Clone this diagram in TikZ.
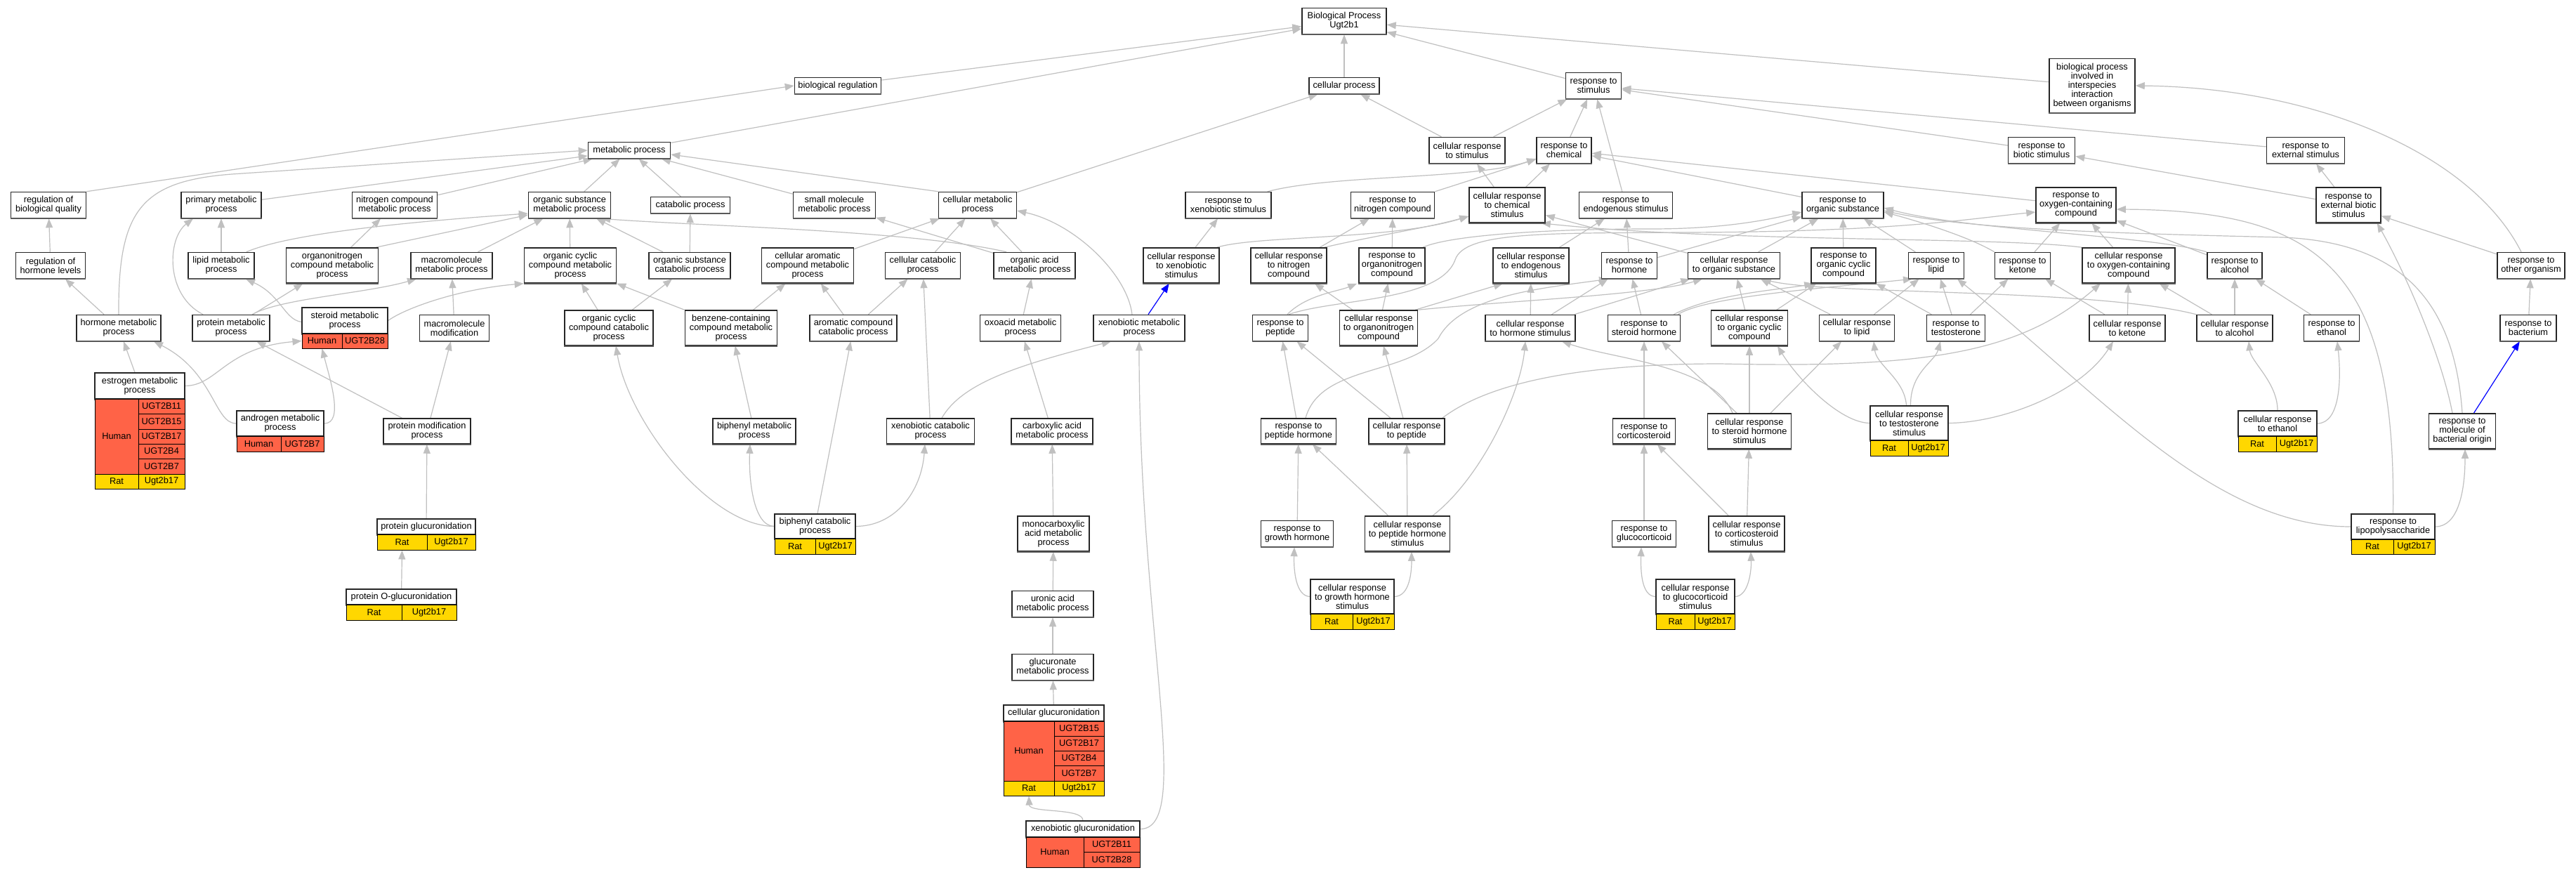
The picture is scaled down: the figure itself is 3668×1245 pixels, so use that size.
\documentclass[tikz,border=0pt]{standalone}
\usepackage{fontspec}
\setmainfont{Liberation Sans}
\usetikzlibrary{arrows.meta}
\pgfdeclarelayer{edges}
\pgfsetlayers{edges,main}
\definecolor{humancol}{RGB}{255,99,71}
\definecolor{ratcol}{RGB}{255,215,0}
\definecolor{edgegray}{RGB}{192,192,192}
\newcommand{\gofont}{\fontsize{12.8}{13}\selectfont}
\tikzset{
  gobox/.style={draw=black!85, line width=1.5pt, fill=white, align=center, inner sep=2pt, font=\gofont,
    append after command={(\tikzlastnode.south west) edge[draw=black!65, line width=2.4pt] (\tikzlastnode.south east)}},
  cell/.style={draw=black, line width=1pt, inner sep=0pt, font=\gofont},
  isa/.style={draw=edgegray, line width=1.2pt, -{Triangle[length=13pt,width=10pt]}},
  partof/.style={isa, draw=blue}
}
% name, x, y, width, height, text
\newcommand{\gonode}[6]{\node[gobox, minimum width=#4pt, minimum height=#5pt] (#1) at (#2,#3) {#6};}
% name, colour, x1, y1, x2, y2, text
\newcommand{\gcell}[7]{%
  \pgfmathsetmacro{\cellw}{#5-#3}\pgfmathsetmacro{\cellh}{#6-#4}%
  \node[cell, fill=#2, minimum width=\cellw pt, minimum height=\cellh pt] (#1) at ({(#3+#5)/2},{(#4+#6)/2}) {#7};}
\begin{document}
\begin{tikzpicture}[x=1pt,y=-1pt]
\useasboundingbox (0,0) rectangle (3668,1245);

\gonode{bp}{1914}{30}{120}{37}{Biological Process\\Ugt2b1}
\gonode{breg}{1193}{122}{123}{23}{biological regulation}
\gonode{cproc}{1914}{122}{100}{23}{cellular process}
\gonode{rstim}{2269}{122}{79}{37}{response to\\stimulus}
\gonode{bpii}{2979}{122}{122}{77}{biological process\\involved in\\interspecies\\interaction\\between organisms}
\gonode{metab}{896}{214}{117}{23}{metabolic process}
\gonode{crstim}{2089}{214}{108}{37}{cellular response\\to stimulus}
\gonode{rchem}{2227}{214}{78}{37}{response to\\chemical}
\gonode{rbiot}{2907}{214}{95}{37}{response to\\biotic stimulus}
\gonode{rext}{3283}{214}{111}{37}{response to\\external stimulus}

\gonode{rbq}{69}{292}{107}{37}{regulation of\\biological quality}
\gonode{prim}{315}{292}{114}{37}{primary metabolic\\process}
\gonode{ncmp}{562}{292}{121}{37}{nitrogen compound\\metabolic process}
\gonode{osmp}{811}{292}{117}{37}{organic substance\\metabolic process}
\gonode{catab}{983}{292}{113}{23}{catabolic process}
\gonode{smmp}{1188}{292}{117}{37}{small molecule\\metabolic process}
\gonode{cmp}{1392}{292}{111}{37}{cellular metabolic\\process}
\gonode{rxeno}{1749}{292}{122}{37}{response to\\xenobiotic stimulus}
\gonode{rnitro}{1983}{292}{119}{37}{response to\\nitrogen compound}
\gonode{crchem}{2146}{292}{108}{50}{cellular response\\to chemical\\stimulus}
\gonode{rendo}{2315}{292}{133}{37}{response to\\endogenous stimulus}
\gonode{rorgsub}{2624}{292}{116}{37}{response to\\organic substance}
\gonode{roxy}{2956}{292}{114}{50}{response to\\oxygen-containing\\compound}
\gonode{rebs}{3344}{292}{92}{50}{response to\\external biotic\\stimulus}

\gonode{rhl}{72}{378}{99}{37}{regulation of\\hormone levels}
\gonode{lipid}{315}{378}{94}{37}{lipid metabolic\\process}
\gonode{onmp}{473}{378}{131}{50}{organonitrogen\\compound metabolic\\process}
\gonode{macro}{643}{378}{116}{37}{macromolecule\\metabolic process}
\gonode{occmp}{812}{378}{131}{50}{organic cyclic\\compound metabolic\\process}
\gonode{oscp}{982}{378}{116}{37}{organic substance\\catabolic process}
\gonode{camp}{1150}{378}{131}{50}{cellular aromatic\\compound metabolic\\process}
\gonode{ccp}{1314}{378}{107}{37}{cellular catabolic\\process}
\gonode{oamp}{1473}{378}{116}{37}{organic acid\\metabolic process}
\gonode{crxeno}{1682}{378}{108}{50}{cellular response\\to xenobiotic\\stimulus}
\gonode{crnitro}{1835}{378}{108}{50}{cellular response\\to nitrogen\\compound}
\gonode{ronitro}{1982}{378}{94}{50}{response to\\organonitrogen\\compound}
\gonode{crendo}{2180}{378}{108}{50}{cellular response\\to endogenous\\stimulus}
\gonode{rhorm}{2320}{378}{79}{37}{response to\\hormone}
\gonode{crorgsub}{2469}{378}{131}{37}{cellular response\\to organic substance}
\gonode{rocc}{2625}{378}{92}{50}{response to\\organic cyclic\\compound}
\gonode{rlipid}{2757}{378}{79}{37}{response to\\lipid}
\gonode{rket}{2880}{378}{79}{37}{response to\\ketone}
\gonode{croxy}{3031}{378}{132}{50}{cellular response\\to oxygen-containing\\compound}
\gonode{ralc}{3182}{378}{78}{37}{response to\\alcohol}
\gonode{rother}{3604}{378}{96}{37}{response to\\other organism}

\gonode{hmp}{169}{467}{120}{37}{hormone metabolic\\process}
\gonode{pmp}{329}{467}{110}{37}{protein metabolic\\process}
\gonode{smp}{491}{456.5}{122}{37}{steroid metabolic\\process}
\gcell{smp-h}{humancol}{430}{475}{487}{496}{Human}
\gcell{smp-g1}{humancol}{487}{475}{552}{496}{UGT2B28}
\gonode{mmod}{647}{467}{99}{37}{macromolecule\\modification}
\gonode{occcp}{867}{467}{126}{50}{organic cyclic\\compound catabolic\\process}
\gonode{bccmp}{1041}{467}{131}{50}{benzene-containing\\compound metabolic\\process}
\gonode{accp}{1215}{467}{124}{37}{aromatic compound\\catabolic process}
\gonode{oxo}{1453}{467}{115}{37}{oxoacid metabolic\\process}
\gonode{xmp}{1622}{467}{130}{37}{xenobiotic metabolic\\process}
\gonode{rpep}{1823}{467}{79}{37}{response to\\peptide}
\gonode{cronitro}{1963}{467}{111}{50}{cellular response\\to organonitrogen\\compound}
\gonode{crhorm}{2179}{467}{128}{37}{cellular response\\to hormone stimulus}
\gonode{rster}{2341}{467}{103}{37}{response to\\steroid hormone}
\gonode{crocc}{2491}{467}{109}{50}{cellular response\\to organic cyclic\\compound}
\gonode{crlipid}{2644}{467}{107}{37}{cellular response\\to lipid}
\gonode{rtest}{2785}{467}{83}{37}{response to\\testosterone}
\gonode{crket}{3029}{467}{108}{37}{cellular response\\to ketone}
\gonode{cralc}{3182}{467}{108}{37}{cellular response\\to alcohol}
\gonode{reth}{3320}{467}{79}{37}{response to\\ethanol}
\gonode{rbact}{3600}{467}{80}{37}{response to\\bacterium}

\gonode{emp}{199}{549.5}{128}{37}{estrogen metabolic\\process}
\gcell{emp-h}{humancol}{135}{568}{197}{675}{Human}
\gcell{emp-g1}{humancol}{197}{568}{263}{589}{UGT2B11}
\gcell{emp-g2}{humancol}{197}{589}{263}{611}{UGT2B15}
\gcell{emp-g3}{humancol}{197}{611}{263}{632}{UGT2B17}
\gcell{emp-g4}{humancol}{197}{632}{263}{653}{UGT2B4}
\gcell{emp-g5}{humancol}{197}{653}{263}{675}{UGT2B7}
\gcell{emp-r}{ratcol}{135}{675}{197}{696}{Rat}
\gcell{emp-g6}{ratcol}{197}{675}{263}{696}{Ugt2b17}
\gonode{amp}{399}{603}{124}{36}{androgen metabolic\\process}
\gcell{amp-h}{humancol}{337}{621}{400}{643}{Human}
\gcell{amp-g1}{humancol}{400}{621}{461}{643}{UGT2B7}
\gonode{pmodp}{608}{614}{124}{36}{protein modification\\process}
\gonode{bpmp}{1074}{614}{118}{36}{biphenyl metabolic\\process}
\gonode{xcp}{1325}{614}{125}{36}{xenobiotic catabolic\\process}
\gonode{cap}{1498}{614}{116}{36}{carboxylic acid\\metabolic process}
\gonode{rph}{1849}{614}{107}{36}{response to\\peptide hormone}
\gonode{crpep}{2003}{614}{108}{36}{cellular response\\to peptide}
\gonode{rcort}{2341}{614}{89}{36}{response to\\corticosteroid}
\gonode{crsh}{2491}{614}{119}{50}{cellular response\\to steroid hormone\\stimulus}
\gonode{crtest}{2718.5}{602.5}{111}{49}{cellular response\\to testosterone\\stimulus}
\gcell{crtest-r}{ratcol}{2663}{627}{2717}{649}{Rat}
\gcell{crtest-g1}{ratcol}{2717}{627}{2774}{649}{Ugt2b17}
\gonode{creth}{3243}{603}{112}{36}{cellular response\\to ethanol}
\gcell{creth-r}{ratcol}{3187}{621}{3241}{643}{Rat}
\gcell{creth-g1}{ratcol}{3241}{621}{3299}{643}{Ugt2b17}
\gonode{rmbo}{3506}{614}{95}{50}{response to\\molecule of\\bacterial origin}

\gonode{pglu}{607}{750}{140}{22}{protein glucuronidation}
\gcell{pglu-r}{ratcol}{537}{761}{608}{783}{Rat}
\gcell{pglu-g1}{ratcol}{608}{761}{677}{783}{Ugt2b17}
\gonode{bpcp}{1160.5}{749.5}{115}{35}{biphenyl catabolic\\process}
\gcell{bpcp-r}{ratcol}{1103}{767}{1161}{789}{Rat}
\gcell{bpcp-g1}{ratcol}{1161}{767}{1218}{789}{Ugt2b17}
\gonode{mcap}{1500}{760}{102}{50}{monocarboxylic\\acid metabolic\\process}
\gonode{rgh}{1847}{760}{103}{37}{response to\\growth hormone}
\gonode{crphs}{2004}{760}{121}{50}{cellular response\\to peptide hormone\\stimulus}
\gonode{rgluc}{2341}{760}{91}{37}{response to\\glucocorticoid}
\gonode{crcs}{2487}{760}{108}{50}{cellular response\\to corticosteroid\\stimulus}
\gonode{rlps}{3407.5}{750}{119}{36}{response to\\lipopolysaccharide}
\gcell{rlps-r}{ratcol}{3348}{768}{3408}{789}{Rat}
\gcell{rlps-g1}{ratcol}{3408}{768}{3467}{789}{Ugt2b17}

\gonode{pOglu}{571.5}{850}{157}{22}{protein O-glucuronidation}
\gcell{pOglu-r}{ratcol}{493}{861}{572}{883}{Rat}
\gcell{pOglu-g1}{ratcol}{572}{861}{650}{883}{Ugt2b17}
\gonode{uamp}{1499}{860}{116}{37}{uronic acid\\metabolic process}
\gonode{crghs}{1925.5}{849.5}{119}{49}{cellular response\\to growth hormone\\stimulus}
\gcell{crghs-r}{ratcol}{1866}{874}{1926}{896}{Rat}
\gcell{crghs-g1}{ratcol}{1926}{874}{1985}{896}{Ugt2b17}
\gonode{crgs}{2414}{849.5}{112}{49}{cellular response\\to glucocorticoid\\stimulus}
\gcell{crgs-r}{ratcol}{2358}{874}{2413}{896}{Rat}
\gcell{crgs-g1}{ratcol}{2413}{874}{2470}{896}{Ugt2b17}
\gonode{gmp}{1499}{950}{116}{37}{glucuronate\\metabolic process}
\gonode{cglu}{1500.5}{1015.5}{143}{23}{cellular glucuronidation}
\gcell{cglu-h}{humancol}{1429}{1027}{1501}{1112}{Human}
\gcell{cglu-g1}{humancol}{1501}{1027}{1572}{1048}{UGT2B15}
\gcell{cglu-g2}{humancol}{1501}{1048}{1572}{1069}{UGT2B17}
\gcell{cglu-g3}{humancol}{1501}{1069}{1572}{1090}{UGT2B4}
\gcell{cglu-g4}{humancol}{1501}{1090}{1572}{1112}{UGT2B7}
\gcell{cglu-r}{ratcol}{1429}{1112}{1501}{1133}{Rat}
\gcell{cglu-g5}{ratcol}{1501}{1112}{1572}{1133}{Ugt2b17}
\gonode{xglu}{1542}{1180.5}{162}{23}{xenobiotic glucuronidation}
\gcell{xglu-h}{humancol}{1461}{1192}{1543}{1235}{Human}
\gcell{xglu-g1}{humancol}{1543}{1192}{1623}{1213}{UGT2B11}
\gcell{xglu-g2}{humancol}{1543}{1213}{1623}{1235}{UGT2B28}

\begin{pgfonlayer}{edges}
\fill[white] (0,0) rectangle (3668,1245);
\foreach \a/\b in {breg/bp, metab/bp, cproc/bp, rstim/bp, bpii/bp, cmp/cproc, crstim/cproc,
    crstim/rstim, rchem/rstim, rendo/rstim, rbiot/rstim, rext/rstim, rebs/rbiot, rebs/rext,
    rother/rebs, rbact/rother, rhl/rbq, hmp/rhl, lipid/prim, onmp/ncmp, mmod/macro,
    pglu/pmodp, prim/metab, ncmp/metab, osmp/metab, catab/metab, smmp/metab, macro/osmp,
    occmp/osmp, oscp/osmp, oscp/catab, camp/cmp, oamp/cmp, oamp/smmp, ccp/cmp, crxeno/rxeno,
    occcp/occmp, occcp/oscp, bccmp/occmp, bccmp/camp, accp/camp, accp/ccp, oxo/oamp, xcp/ccp,
    cap/oxo, mcap/cap, uamp/mcap, gmp/uamp, cglu/gmp, pmp/onmp, bpmp/bccmp, bpcp/accp,
    emp/hmp, pmodp/pmp, pmodp/mmod, rnitro/rchem, crchem/rchem, crchem/crstim, rorgsub/rchem,
    roxy/rchem, crnitro/rnitro, ronitro/rnitro, crendo/rendo, rhorm/rendo, rhorm/rorgsub,
    crorgsub/rorgsub, crorgsub/crchem, rocc/rorgsub, rlipid/rorgsub, rket/roxy, croxy/roxy,
    ralc/roxy, cronitro/crnitro, cronitro/ronitro, crhorm/crendo, crhorm/rhorm,
    crhorm/crorgsub, rster/rhorm, crocc/rocc, crocc/crorgsub, crlipid/crorgsub,
    crlipid/rlipid, rtest/rocc, rtest/rlipid, rtest/rket, crket/rket, crket/croxy,
    cralc/croxy, cralc/ralc, reth/ralc, rph/rpep, crpep/rpep, crpep/cronitro, rcort/rster,
    crsh/crocc, rgh/rph, crphs/rph, crphs/crpep, rgluc/rcort, crcs/rcort, crcs/crsh}
  \draw[isa] (\a) -- (\b);

\draw[isa] (rbq.north east) -- (breg.west);
\draw[isa] (hmp.north) .. controls (168,300) and (200,258) .. (330,248) -- (metab.west);
\draw[isa] ([xshift=-40pt]pmp.north) .. controls (235,420) and (238,340) .. ([xshift=-40pt]prim.south);
\draw[isa] ([yshift=-2pt]smp.west) .. controls (405,455) and (400,420) .. ([xshift=35pt]lipid.south);
\draw[isa] (emp.east) .. controls (310,549) and (320,495) .. (smp-h.west);
\draw[isa] (amp.west) .. controls (305,603) and (305,530) .. ([xshift=50pt]hmp.south);
\draw[isa] (amp.east) .. controls (490,603) and (470,540) .. (smp-h.south);
\draw[isa] ([xshift=30pt]pmp.north) .. controls (400,425) and (520,418) .. ([xshift=-50pt]macro.south);
\draw[isa] ([xshift=-12pt]lipid.north east) .. controls (400,338) and (520,320) .. ([yshift=-12pt]osmp.west);
\draw[isa] ([xshift=-4pt]onmp.north east) -- ([yshift=-14pt]osmp.west);
\draw[isa] (smp.east) .. controls (575,440) and (650,412) .. (occmp.south west);
\draw[isa] ([xshift=-40pt]oamp.north) .. controls (1300,328) and (1000,322) .. ([xshift=45pt]osmp.south);
\draw[isa] (cmp.north west) -- ([yshift=-6pt]metab.east);
\draw[isa] ([xshift=-10pt]xmp.north) .. controls (1605,390) and (1530,318) .. ([yshift=-8pt]cmp.east);
\draw[isa] ([xshift=16pt]xcp.north) .. controls (1370,545) and (1450,520) .. ([xshift=-40pt]xmp.south);
\draw[isa] (xglu.east) .. controls (1700,1180) and (1622,900) .. (xmp.south);
\draw[isa] (xglu.north) .. controls (1542,1150) and (1466,1158) .. (cglu-r.south);
\draw[isa] (bpcp.west) .. controls (1072,749) and (1066,680) .. ([xshift=-6pt]bpmp.south);
\draw[isa] (bpcp.west) .. controls (1010,749) and (895,600) .. ([xshift=10pt]occcp.south);
\draw[isa] (bpcp.east) .. controls (1275,749) and (1312,700) .. ([xshift=-8pt]xcp.south);
\draw[isa] (pOglu) -- (pglu-r.south);

\draw[isa] ([xshift=-14pt]rother.north) .. controls (3520,220) and (3300,125) .. (bpii.east);
\draw[isa] ([xshift=-6pt]rxeno.north east) .. controls (1900,248) and (2100,256) .. ([yshift=-12pt]rchem.west);
\draw[isa] ([xshift=-4pt]crxeno.north east) .. controls (1790,335) and (1980,342) .. ([yshift=-16pt]crchem.west);
\draw[isa] ([xshift=-4pt]crnitro.north east) .. controls (1960,335) and (2030,325) .. ([yshift=-16pt]crchem.west);
\draw[isa] ([xshift=-4pt]ronitro.north east) .. controls (2065,335) and (2200,326) .. (2350,326)
  .. controls (2460,326) and (2520,312) .. ([yshift=-10pt]rorgsub.west);
\draw[isa] ([xshift=12pt]rpep.north) .. controls (1900,425) and (2050,430) .. (2072,370)
  .. controls (2085,330) and (2200,332) .. (2400,331) .. controls (2700,330) and (2800,312) .. ([yshift=-10pt]roxy.west);
\draw[isa] ([xshift=10pt]rpep.north) .. controls (1860,420) and (1905,415) .. ([xshift=-2pt]ronitro.south west);
\draw[isa] (croxy.north west) .. controls (2850,337) and (2450,345) .. ([xshift=-6pt]crchem.south east);
\draw[isa] ([xshift=-4pt]cronitro.north east) -- ([xshift=-40pt]crendo.south);
\draw[isa] (cronitro.north east) .. controls (2150,428) and (2350,420) .. ([xshift=-45pt]crorgsub.south);
\draw[isa] ([xshift=10pt]rph.north) .. controls (1880,520) and (2000,535) .. (2048,482)
  .. controls (2080,420) and (2200,410) .. ([xshift=-30pt]rhorm.south);
\draw[isa] ([xshift=-4pt]rster.north east) .. controls (2430,422) and (2600,410) .. ([xshift=-34pt]rlipid.south);
\draw[isa] ([xshift=-10pt]rster.north east) .. controls (2440,418) and (2540,412) .. ([xshift=4pt]rocc.south west);
\draw[isa] ([xshift=36pt]crphs.north) .. controls (2110,680) and (2165,560) .. ([xshift=-7pt]crhorm.south);
\draw[isa] ([xshift=-24pt]crsh.north) .. controls (2440,520) and (2300,512) .. ([xshift=45pt]crhorm.south);
\draw[isa] ([xshift=-18pt]crsh.north) -- ([xshift=25pt]rster.south);
\draw[isa] ([xshift=30pt]crsh.north) -- ([xshift=-22pt]crlipid.south);
\draw[isa] (crghs.west) .. controls (1845,849) and (1842,812) .. ([xshift=-4pt]rgh.south);
\draw[isa] (crghs.east) .. controls (2008,849) and (2010,812) .. ([xshift=6pt]crphs.south);
\draw[isa] (crgs.west) .. controls (2337,849) and (2336,812) .. ([xshift=-4pt]rgluc.south);
\draw[isa] (crgs.east) .. controls (2490,849) and (2494,812) .. ([xshift=6pt]crcs.south);
\draw[isa] ([xshift=-4pt]crtest.north) .. controls (2712,540) and (2672,520) .. ([xshift=24pt]crlipid.south);
\draw[isa] ([xshift=2pt]crtest.north) .. controls (2720,530) and (2755,515) .. ([xshift=-22pt]rtest.south);
\draw[isa] (crtest.east) .. controls (2850,602) and (2962,560) .. ([xshift=-20pt]crket.south);
\draw[isa] (crtest.west) .. controls (2620,602) and (2560,540) .. ([xshift=40pt]crocc.south);
\draw[isa] ([xshift=-4pt]crpep.north east) .. controls (2120,545) and (2250,518) .. (2450,518)
  .. controls (2750,525) and (2880,500) .. ([xshift=-40pt]croxy.south);
\draw[isa] (cralc.north west) .. controls (2980,410) and (2600,420) .. ([xshift=40pt]crorgsub.south);
\draw[isa] (rket.north west) .. controls (2800,335) and (2720,312) .. ([yshift=-10pt]rorgsub.east);
\draw[isa] (ralc.north west) .. controls (3060,335) and (2800,328) .. ([yshift=-4pt]rorgsub.east);
\draw[isa] (rlps.west) .. controls (3150,750) and (2990,560) .. ([xshift=30pt]rlipid.south);
\draw[isa] (rlps.north) .. controls (3412,380) and (3300,300) .. ([yshift=-6pt]roxy.east);
\draw[isa] (rlps.east) .. controls (3500,750) and (3510,700) .. ([xshift=4pt]rmbo.south);
\draw[isa] ([xshift=-14pt]rmbo.north) .. controls (3475,500) and (3420,380) .. ([xshift=-6pt]rebs.south east);
\draw[isa] (rmbo.north) .. controls (3495,430) and (3420,345) .. (3250,338)
  .. controls (3000,332) and (2800,326) .. ([yshift=-8pt]rorgsub.east);
\draw[isa] (creth.north) .. controls (3243,545) and (3205,515) .. ([xshift=20pt]cralc.south);
\draw[isa] (creth.east) .. controls (3332,603) and (3334,540) .. ([xshift=8pt]reth.south);
\draw[partof] (rmbo) -- (rbact);
\draw[partof] (xmp) -- (crxeno);
\end{pgfonlayer}
\end{tikzpicture}
\end{document}
